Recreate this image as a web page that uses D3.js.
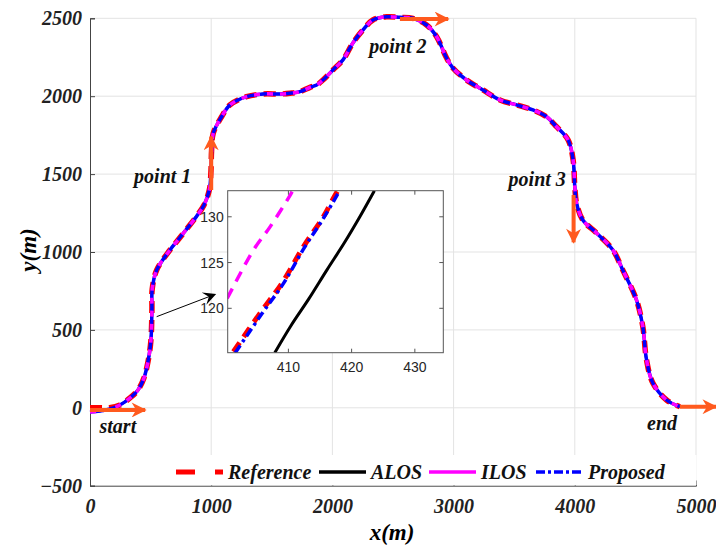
<!DOCTYPE html>
<html>
<head>
<meta charset="utf-8">
<script src="https://cdn.jsdelivr.net/npm/d3@7"></script>
<style>
  body { margin: 0; background: #fff; }
  svg { display: block; }
</style>
</head>
<body>
<div id="chart"></div>
<script>
// trajectory (x, y in metres)
var refHead = [[0, 0], [80, 0], [160, 1]]
var trackHead = [[0, -27], [82, -21], [165, -8]]
var pathCommon = [
  [247, 18], [330, 63], [396, 114], [445, 191], [478, 294], [499, 403], [507, 499],
  [511, 640], [513, 760], [550, 884], [660, 1013], [726, 1077], [800, 1150],
  [880, 1230], [940, 1300], [985, 1400], [998, 1520], [1003, 1650], [1017, 1762],
  [1086, 1868], [1155, 1944], [1292, 1997], [1427, 2014], [1567, 2014], [1650, 2019],
  [1732, 2029], [1815, 2057], [1870, 2072], [1922, 2104], [2004, 2168], [2087, 2233],
  [2169, 2342], [2252, 2425], [2334, 2489], [2447, 2510], [2557, 2506], [2664, 2500],
  [2777, 2457], [2860, 2382], [2942, 2245], [2994, 2181], [3107, 2104], [3242, 2040],
  [3382, 1976], [3519, 1944], [3654, 1912], [3767, 1868], [3849, 1804], [3945, 1719],
  [3986, 1591], [4000, 1419], [4014, 1315], [4066, 1205], [4179, 1122], [4314, 1013],
  [4396, 884], [4509, 692], [4561, 521], [4592, 307], [4644, 159], [4757, 50], [4867, 7]
]
var refPath = refHead.concat(pathCommon)
var trackPath = trackHead.concat(pathCommon)

// zoomed-in window
var insetRef = [[401.3, 115.26], [405.5, 119.45], [408.96, 122.73], [412.37, 126.72], [415.53, 130.0], [417.1, 132.0], [417.8, 132.84]]
var insetProposed = [[401.6, 115.15], [405.8, 119.4], [409.2, 122.7], [412.5, 126.6], [415.6, 129.9], [418.1, 132.84]]
var insetILOS = [[400.3, 121.1], [400.5, 121.34], [404.47, 126.36], [407.1, 128.9], [410.38, 132.48], [410.7, 132.9]]
var insetALOS = [[407.85, 115.15], [410.4, 118.1], [413.2, 121.0], [416.1, 124.2], [418.8, 127.1], [421.3, 130.0], [423.6, 132.84]]

var xTicks = [0, 1000, 2000, 3000, 4000, 5000]
var yTicks = [-500, 0, 500, 1000, 1500, 2000, 2500]
var insetXTicks = [410, 420, 430]
var insetYTicks = [120, 125, 130]
var legendNames = ["Reference", "ALOS", "ILOS", "Proposed"]

var W = 716, H = 545
var margin = {top: 18.3, right: 20, bottom: 59.3, left: 90}
var width = W - margin.left - margin.right,
    height = H - margin.top - margin.bottom

var serif = "'Liberation Serif', 'Times New Roman', serif"
var arrowColor = "#ff5a1e"

var svg = d3.select("#chart").append("svg")
  .attr("width", W)
  .attr("height", H)

var defs = svg.append("defs")

var x = d3.scaleLinear().domain([0, 5000]).range([margin.left, margin.left + width])
var y = d3.scaleLinear().domain([-500, 2500]).range([margin.top + height, margin.top])

// grid
svg.append("g").selectAll("line")
  .data(xTicks.slice(1))
  .enter().append("line")
  .attr("x1", d => x(d)).attr("x2", d => x(d))
  .attr("y1", y(-500)).attr("y2", y(2500))
  .attr("stroke", "#e3e3e3").attr("stroke-width", 1)

svg.append("g").selectAll("line")
  .data(yTicks.slice(1))
  .enter().append("line")
  .attr("x1", x(0)).attr("x2", x(5000))
  .attr("y1", d => y(d)).attr("y2", d => y(d))
  .attr("stroke", "#e3e3e3").attr("stroke-width", 1)

// axes
var xAxis = svg.append("g")
  .attr("transform", "translate(0," + y(-500) + ")")
  .call(d3.axisBottom(x).tickValues(xTicks).tickFormat(d3.format("d")).tickSize(-5).tickPadding(12))
var yAxis = svg.append("g")
  .attr("transform", "translate(" + x(0) + ",0)")
  .call(d3.axisLeft(y).tickValues(yTicks).tickFormat(d3.format("d")).tickSize(-5).tickPadding(8))

xAxis.select(".domain").attr("stroke", "#444")
yAxis.select(".domain").attr("stroke", "#444")
svg.selectAll(".tick line").attr("stroke", "#444")
svg.selectAll(".tick text")
  .style("font-family", serif).style("font-size", "20px")
  .style("font-weight", "bold").style("font-style", "italic").attr("fill", "#222")
xAxis.selectAll(".tick text").attr("dy", "0.75em")
yAxis.selectAll(".tick text").attr("dy", "0.33em")

// axis titles
svg.append("text")
  .attr("x", 392).attr("y", 540)
  .attr("text-anchor", "middle")
  .style("font-family", serif).style("font-size", "23px")
  .style("font-weight", "bold").style("font-style", "italic")
  .text("x(m)")
svg.append("text")
  .attr("transform", "translate(36," + 250 + ") rotate(-90)")
  .attr("text-anchor", "middle")
  .style("font-family", serif).style("font-size", "23px")
  .style("font-weight", "bold").style("font-style", "italic")
  .text("y(m)")

// lines
var line = d3.line()
  .x(d => x(d[0]))
  .y(d => y(d[1]))
  .curve(d3.curveCatmullRom.alpha(0.5))

var styles = {
  Reference: {color: "#ff0000", width: 5.5, dash: "12,7"},
  ALOS: {color: "#000000", width: 3, dash: null},
  ILOS: {color: "#ff00ff", width: 3.5, dash: "6,7"},
  Proposed: {color: "#0000ff", width: 3.5, dash: "12,3,3,3"}
}

function drawPath(g, data, lineFn, s) {
  g.append("path")
    .datum(data)
    .attr("d", lineFn)
    .attr("fill", "none")
    .attr("stroke", s.color)
    .attr("stroke-width", s.width)
    .attr("stroke-dasharray", s.dash)
}

var main = svg.append("g")
drawPath(main, trackPath, line, {color: "#000", width: 2.5, dash: null})
drawPath(main, refPath, line, styles.Reference)
drawPath(main, trackPath, line, {color: "#0000ff", width: 3.5, dash: null})
drawPath(main, trackPath, line, styles.ILOS)

// orange direction arrows
defs.append("marker")
  .attr("id", "orange-head")
  .attr("viewBox", "0 0 10 10")
  .attr("refX", 9).attr("refY", 5)
  .attr("markerUnits", "userSpaceOnUse")
  .attr("markerWidth", 18).attr("markerHeight", 15)
  .attr("orient", "auto")
  .append("path")
  .attr("d", "M0,0 L10,5 L0,10 L3,5 Z")
  .attr("fill", arrowColor)

var arrows = [
  [[0, -14], [455, -14]],
  [[1000, 1398], [1000, 1740]],
  [[2557, 2495], [2955, 2495]],
  [[3990, 1366], [3990, 1062]],
  [[4867, 7], [5165, 7]]
]
svg.append("g").selectAll("line")
  .data(arrows)
  .enter().append("line")
  .attr("x1", d => x(d[0][0])).attr("y1", d => y(d[0][1]))
  .attr("x2", d => x(d[1][0])).attr("y2", d => y(d[1][1]))
  .attr("stroke", arrowColor)
  .attr("stroke-width", 4)
  .attr("marker-end", "url(#orange-head)")

// labels on the path
var notes = [
  {t: "point 1", x: 600, y: 1440},
  {t: "point 2", x: 2540, y: 2275},
  {t: "point 3", x: 3690, y: 1425},
  {t: "start", x: 230, y: -160},
  {t: "end", x: 4720, y: -145}
]
svg.append("g").selectAll("text")
  .data(notes)
  .enter().append("text")
  .attr("x", d => x(d.x)).attr("y", d => y(d.y))
  .attr("text-anchor", "middle")
  .style("font-family", serif).style("font-size", "20px")
  .style("font-weight", "bold").style("font-style", "italic")
  .attr("fill", "#111")
  .text(d => d.t)

// black pointer to the inset
defs.append("marker")
  .attr("id", "black-head")
  .attr("viewBox", "0 0 10 10")
  .attr("refX", 9).attr("refY", 5)
  .attr("markerUnits", "userSpaceOnUse")
  .attr("markerWidth", 16).attr("markerHeight", 13)
  .attr("orient", "auto")
  .append("path")
  .attr("d", "M0,0 L10,5 L0,10 L4,5 Z")
  .attr("fill", "#000")

svg.append("line")
  .attr("x1", x(550)).attr("y1", y(585))
  .attr("x2", x(1031)).attr("y2", y(728))
  .attr("stroke", "#000").attr("stroke-width", 1)
  .attr("marker-end", "url(#black-head)")

// inset
var ib = {x0: 227.7, x1: 443.3, y0: 190.7, y1: 352.7}
var ix = d3.scaleLinear().domain([400.4, 434.5]).range([ib.x0, ib.x1])
var iy = d3.scaleLinear().domain([115.15, 132.85]).range([ib.y1, ib.y0])

defs.append("clipPath").attr("id", "inset-clip")
  .append("rect")
  .attr("x", ib.x0).attr("y", ib.y0)
  .attr("width", ib.x1 - ib.x0).attr("height", ib.y1 - ib.y0)

var inset = svg.append("g")
inset.append("rect")
  .attr("x", ib.x0).attr("y", ib.y0)
  .attr("width", ib.x1 - ib.x0).attr("height", ib.y1 - ib.y0)
  .attr("fill", "#fff")

var iline = d3.line()
  .x(d => ix(d[0]))
  .y(d => iy(d[1]))
  .curve(d3.curveCatmullRom.alpha(0.5))

var inner = inset.append("g").attr("clip-path", "url(#inset-clip)")
drawPath(inner, insetALOS, iline, styles.ALOS)
drawPath(inner, insetILOS, iline, {color: "#ff00ff", width: 3.5, dash: "11,8"})
drawPath(inner, insetRef, iline, {color: "#ff0000", width: 5, dash: "11,7"})
drawPath(inner, insetProposed, iline, {color: "#0000ff", width: 3.5, dash: "9,4,3,4"})

var tickLen = 4
var ig = inset.append("g").attr("stroke", "#555").attr("stroke-width", 1)
ig.selectAll("line.bx").data(insetXTicks).enter().append("line")
  .attr("x1", d => ix(d)).attr("x2", d => ix(d))
  .attr("y1", ib.y1).attr("y2", ib.y1 - tickLen)
ig.selectAll("line.tx").data(insetXTicks).enter().append("line")
  .attr("x1", d => ix(d)).attr("x2", d => ix(d))
  .attr("y1", ib.y0).attr("y2", ib.y0 + tickLen)
ig.selectAll("line.ly").data(insetYTicks).enter().append("line")
  .attr("x1", ib.x0).attr("x2", ib.x0 + tickLen)
  .attr("y1", d => iy(d)).attr("y2", d => iy(d))
ig.selectAll("line.ry").data(insetYTicks).enter().append("line")
  .attr("x1", ib.x1).attr("x2", ib.x1 - tickLen)
  .attr("y1", d => iy(d)).attr("y2", d => iy(d))

inset.append("rect")
  .attr("x", ib.x0).attr("y", ib.y0)
  .attr("width", ib.x1 - ib.x0).attr("height", ib.y1 - ib.y0)
  .attr("fill", "none").attr("stroke", "#555").attr("stroke-width", 1)

inset.selectAll("text.xl").data(insetXTicks).enter().append("text")
  .attr("x", d => ix(d)).attr("y", ib.y1 + 19)
  .attr("text-anchor", "middle")
  .style("font-family", "'Liberation Sans', Arial, sans-serif").style("font-size", "14px")
  .attr("fill", "#262626")
  .text(d => d)
inset.selectAll("text.yl").data(insetYTicks).enter().append("text")
  .attr("x", ib.x0 - 4).attr("y", d => iy(d) + 5)
  .attr("text-anchor", "end")
  .style("font-family", "'Liberation Sans', Arial, sans-serif").style("font-size", "14px")
  .attr("fill", "#262626")
  .text(d => d)

// legend
var legend = svg.append("g")
legend.append("rect")
  .attr("x", 170).attr("y", 455)
  .attr("width", x(5000) - 170 + 0.5).attr("height", y(-500) - 455 - 0.5)
  .attr("fill", "#fff")

var legendX = [176, 319, 429, 536]
var legendDash = {Reference: "19,20", ALOS: null, ILOS: null, Proposed: "9,3,3,3"}
legendNames.forEach(function(name, i) {
  var s = styles[name]
  legend.append("line")
    .attr("x1", legendX[i]).attr("x2", legendX[i] + 47)
    .attr("y1", 472).attr("y2", 472)
    .attr("stroke", s.color)
    .attr("stroke-width", name == "Reference" ? 5 : 3.5)
    .attr("stroke-dasharray", legendDash[name])
  legend.append("text")
    .attr("x", legendX[i] + 52).attr("y", 479)
    .style("font-family", serif).style("font-size", "20px")
    .style("font-weight", "bold").style("font-style", "italic")
    .attr("fill", "#111")
    .text(name)
})
</script>
</body>
</html>
